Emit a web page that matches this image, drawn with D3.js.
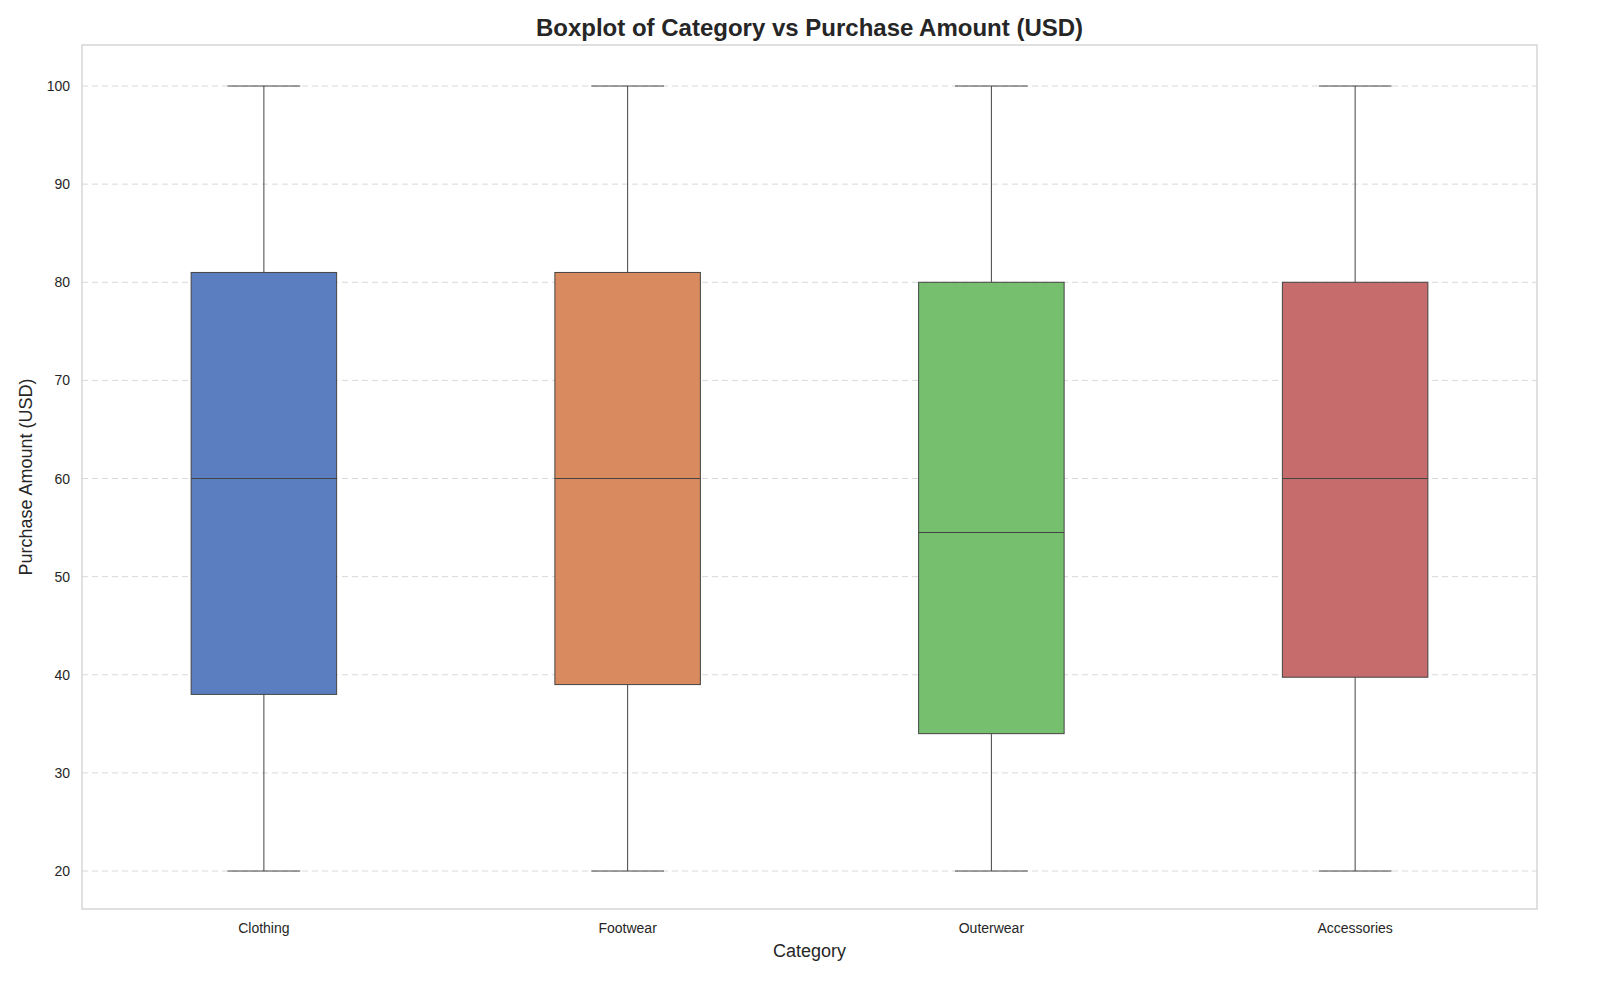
<!DOCTYPE html>
<html><head><meta charset="utf-8">
<script src="https://cdn.jsdelivr.net/npm/d3@7"></script>
<style>body{margin:0;background:#fff;font-family:"Liberation Sans",Arial,sans-serif}</style>
</head><body><svg id="c" width="1600" height="1000"></svg>
<script>
const categories=["Clothing","Footwear","Outerwear","Accessories"];
const mins=[20,20,20,20];
const q1s=[38,39,34,39.75];
const medians=[60,60,54.5,60];
const q3s=[81,81,80,80];
const maxs=[100,100,100,100];
const colors=["#5a7ebf","#d98a5f","#75bf6f","#c66c6c"];
const yTicks=[20,30,40,50,60,70,80,90,100];

const svg=d3.select("#c");
const L=82,R=1537,T=45,B=909;
const x=d3.scaleBand().domain(categories).range([L,R]);
const y=d3.scaleLinear().domain([16.13,104.18]).range([B,T]);
const g=svg.append("g");
g.selectAll(".grid").data(yTicks).join("line")
 .attr("x1",L).attr("x2",R).attr("y1",d=>y(d)).attr("y2",d=>y(d))
 .attr("stroke","#d9d9d9").attr("stroke-dasharray","6,4").attr("stroke-width",1);
const bw=x.bandwidth()*0.4;
categories.forEach((c,i)=>{
 const cx=x(c)+x.bandwidth()/2;
 const st={stroke:"#444",w:1};
 g.append("line").attr("x1",cx).attr("x2",cx).attr("y1",y(q3s[i])).attr("y2",y(maxs[i])).attr("stroke","#444");
 g.append("line").attr("x1",cx).attr("x2",cx).attr("y1",y(q1s[i])).attr("y2",y(mins[i])).attr("stroke","#444");
 g.append("line").attr("x1",cx-bw/4).attr("x2",cx+bw/4).attr("y1",y(maxs[i])).attr("y2",y(maxs[i])).attr("stroke","#444");
 g.append("line").attr("x1",cx-bw/4).attr("x2",cx+bw/4).attr("y1",y(mins[i])).attr("y2",y(mins[i])).attr("stroke","#444");
 g.append("rect").attr("x",cx-bw/2).attr("width",bw).attr("y",y(q3s[i])).attr("height",y(q1s[i])-y(q3s[i]))
  .attr("fill",colors[i]).attr("stroke","#444");
 g.append("line").attr("x1",cx-bw/2).attr("x2",cx+bw/2).attr("y1",y(medians[i])).attr("y2",y(medians[i])).attr("stroke","#444");
});
svg.append("rect").attr("x",L).attr("y",T).attr("width",R-L).attr("height",B-T).attr("fill","none").attr("stroke","#cccccc").attr("stroke-width",1.2);
const ya=svg.append("g").attr("transform",`translate(${L},0)`).call(d3.axisLeft(y).tickValues(yTicks).tickSize(0).tickPadding(12));
ya.select(".domain").remove();
ya.selectAll("text").attr("font-size",14).attr("fill","#262626").attr("font-family","Liberation Sans, Arial");
const xa=svg.append("g").attr("transform",`translate(0,${B})`).call(d3.axisBottom(x).tickSize(0).tickPadding(14));
xa.select(".domain").remove();
xa.selectAll("text").attr("font-size",14).attr("fill","#262626").attr("font-family","Liberation Sans, Arial");
svg.append("text").attr("x",(L+R)/2).attr("y",36).attr("text-anchor","middle").attr("font-size",24).attr("font-weight","bold").attr("fill","#262626").text("Boxplot of Category vs Purchase Amount (USD)");
svg.append("text").attr("x",(L+R)/2).attr("y",957).attr("text-anchor","middle").attr("font-size",18).attr("fill","#262626").text("Category");
svg.append("text").attr("transform",`translate(32,${(T+B)/2}) rotate(-90)`).attr("text-anchor","middle").attr("font-size",18).attr("fill","#262626").text("Purchase Amount (USD)");
</script></body></html>
